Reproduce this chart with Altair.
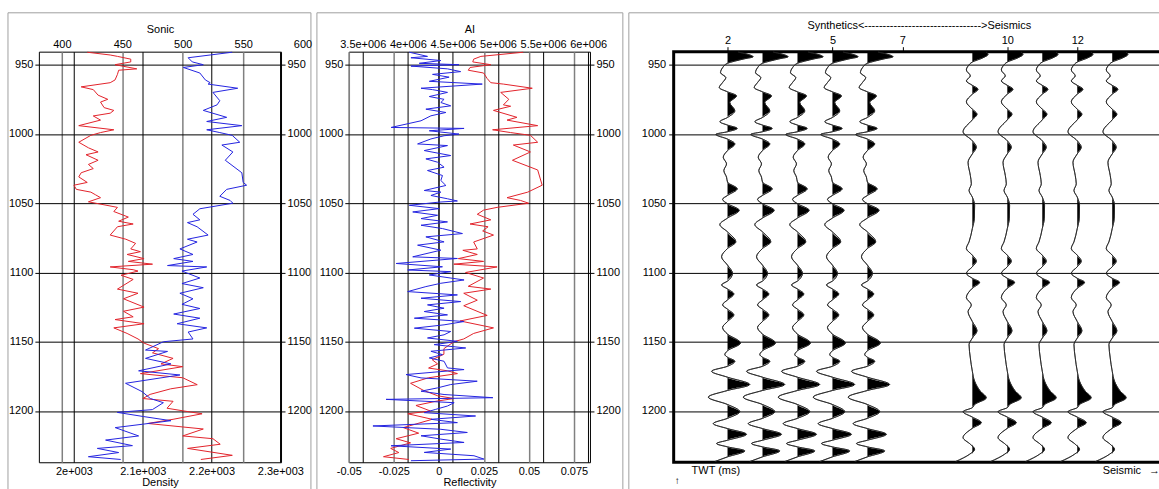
import altair as alt
import pandas as pd

FONT = "Liberation Sans"
RED = "#e2232b"
BLUE = "#2424e0"
GRAY = "#808080"

# ---------------- data ----------------
t_domain = [940.6, 1237.0]
t_ticks = [950, 1000, 1050, 1100, 1150, 1200]

sonic_ticks = [400, 450, 500, 550]
density_ticks = [2000, 2100, 2200, 2300]
ai_ticks = [3.5e6, 4.0e6, 4.5e6, 5.0e6, 5.5e6, 6.0e6]
refl_ticks = [-0.05, -0.025, 0, 0.025, 0.05, 0.075]
trace_ticks = [2, 5, 7, 10, 12]

sonic_t = [941, 943, 944, 946, 948, 950, 953, 954, 957, 961, 963, 966, 968, 972, 975, 977, 981, 983, 985, 987,
           990, 994, 997, 999, 1001, 1006, 1010, 1013, 1015, 1019, 1022, 1025, 1028, 1031, 1035, 1037, 1040, 1042,
           1044, 1046, 1049, 1053, 1056, 1060, 1063, 1065, 1067, 1073, 1076, 1079, 1083, 1085, 1087, 1090, 1092,
           1094, 1096, 1098, 1099, 1102, 1105, 1112, 1115, 1119, 1125, 1128, 1132, 1134, 1137, 1140, 1144, 1148,
           1151, 1155, 1158, 1162, 1166, 1168, 1173, 1176, 1181, 1184, 1188, 1191, 1193, 1198, 1200, 1202, 1206,
           1209, 1213, 1218, 1220, 1224, 1227, 1232, 1235]
sonic_v = [421, 440, 446, 457, 457, 444, 462, 447, 446, 444, 440, 416, 426, 430, 438, 432, 435, 443, 440, 426,
           432, 414, 443, 432, 424, 414, 422, 430, 420, 430, 422, 426, 416, 414, 421, 410, 412, 424,
           428, 432, 422, 446, 443, 455, 447, 459, 446, 440, 453, 461, 457, 465, 454, 468, 455,
           475, 440, 459, 463, 449, 459, 446, 463, 451, 468, 451, 459, 444, 468, 443, 454, 463,
           468, 480, 475, 492, 482, 500, 465, 500, 512, 490, 473, 467, 492, 487, 501, 516, 492,
           471, 517, 500, 525, 531, 504, 541, 515]

density_t = [941, 943, 945, 948, 950, 952, 956, 961, 963, 964, 967, 970, 976, 979, 983, 988, 991, 994, 997, 999,
             1001, 1006, 1008, 1013, 1019, 1028, 1035, 1037, 1040, 1045, 1048, 1050, 1054, 1058, 1062,
             1064, 1067, 1073, 1076, 1078, 1083, 1087, 1090, 1092, 1095, 1096, 1099, 1104, 1108, 1111,
             1115, 1119, 1123, 1126, 1130, 1133, 1137, 1140, 1143, 1148, 1150, 1156, 1157, 1162, 1166,
             1171, 1174, 1180, 1186, 1191, 1194, 1199, 1201, 1204, 1207, 1212, 1218, 1221, 1225, 1227,
             1230, 1233, 1235]
density_v = [2230, 2198, 2166, 2172, 2188, 2159, 2183, 2191, 2198, 2195, 2238, 2202, 2212, 2208, 2188,
             2222, 2193, 2244, 2193, 2212, 2230, 2241, 2215, 2231, 2220, 2244, 2246, 2251, 2222, 2212,
             2227, 2231, 2183, 2173, 2183, 2165, 2179, 2195, 2165, 2179, 2154, 2173, 2145, 2173, 2136,
             2193, 2157, 2183, 2157, 2188, 2154, 2173, 2157, 2183, 2145, 2183, 2150, 2193, 2166, 2173,
             2130, 2104, 2136, 2104, 2141, 2094, 2154, 2075, 2099, 2111, 2130, 2114, 2063, 2101, 2141,
             2060, 2094, 2046, 2085, 2034, 2065, 2021, 2068]

ai_t = [941, 944, 946, 948, 950, 952, 954, 956, 960, 963, 964, 967, 970, 975, 979, 980, 983, 988, 990, 994,
        997, 999, 1001, 1006, 1008, 1013, 1019, 1026, 1037, 1042, 1046, 1048, 1050, 1053, 1055,
        1058, 1062, 1065, 1067, 1070, 1073, 1078, 1083, 1084, 1087, 1090, 1092, 1094, 1096, 1100,
        1104, 1110, 1112, 1115, 1120, 1124, 1131, 1135, 1140, 1144, 1148, 1150, 1155, 1159, 1163,
        1166, 1169, 1171, 1173, 1176, 1180, 1185, 1189, 1191, 1193, 1196, 1200, 1202, 1206, 1212,
        1216, 1220, 1223, 1227, 1230, 1233, 1235]
ai_v = [5.28e6, 4.81e6, 4.73e6, 4.72e6, 4.92e6, 4.69e6, 4.67e6, 4.84e6, 4.88e6, 4.92e6,
        5.06e6, 5.38e6, 5.03e6, 5.12e6, 5.06e6, 5.14e6, 4.95e6, 5.21e6, 5.10e6, 5.44e6,
        4.94e6, 5.14e6, 5.36e6, 5.44e6, 5.17e6, 5.36e6, 5.16e6, 5.44e6, 5.49e6, 5.33e6,
        5.10e6, 5.25e6, 5.34e6, 4.99e6, 4.84e6, 4.77e6, 4.92e6, 4.69e6, 4.89e6, 4.83e6,
        4.95e6, 4.73e6, 4.77e6, 4.61e6, 4.77e6, 4.56e6, 4.84e6, 4.51e6, 4.99e6, 4.64e6,
        4.84e6, 4.67e6, 4.92e6, 4.62e6, 4.77e6, 4.62e6, 4.88e6, 4.58e6, 4.95e6, 4.73e6,
        4.62e6, 4.51e6, 4.40e6, 4.40e6, 4.27e6, 4.33e6, 4.23e6, 4.44e6, 4.55e6, 4.23e6,
        4.03e6, 4.17e6, 4.33e6, 4.51e6, 4.31e6, 4.09e6, 4.25e6, 4.00e6, 4.27e6, 3.95e6,
        4.12e6, 3.87e6, 4.03e6, 3.81e6, 3.90e6, 3.73e6, 4.01e6]

refl_t = [941, 944, 945, 947, 949, 950, 951, 953, 955, 957, 959, 962, 964, 967, 968, 970, 973, 975,
          977.3, 979.7, 982.1, 984.5, 986.9, 990.5, 995.3, 996.0, 997.7, 1000.1, 1001.3, 1003.6, 1007.2,
          1008.4, 1012.0, 1015.6, 1018.0, 1020.4, 1024.0, 1026.4, 1030.0, 1033.6, 1037.2, 1040.8, 1042.0,
          1044.4, 1046.8, 1048.4, 1049.2, 1051.5, 1053.9, 1056.3, 1058.7, 1061.1, 1063.5, 1065.9, 1068.3,
          1071.9, 1074.3, 1077.9, 1080.3, 1083.9, 1088.7, 1089.9, 1093.5, 1095.9, 1098.2, 1099.4, 1101.8,
          1105.4, 1107.8, 1110.2, 1113.8, 1116.2, 1118.6, 1121.0, 1123.4, 1125.8, 1128.2, 1130.6, 1133.0,
          1135.4, 1137.8, 1140.2, 1142.6, 1145.0, 1147.3, 1149.7, 1152.1, 1154.5, 1156.9, 1159.3, 1161.7,
          1164.1, 1168.9, 1170.1, 1173.7, 1176.1, 1178.5, 1180.9, 1183.3, 1185.7, 1188.1, 1190.4, 1191.6,
          1194.0, 1196.4, 1198.8, 1201.2, 1203.6, 1206.0, 1208.4, 1210.8, 1213.2, 1215.5, 1217.9, 1220.3,
          1222.7, 1225.1, 1227.5, 1229.9, 1232.3, 1234.7, 1235.9]
refl_v = [-0.0164, -0.0063, -0.0155, 0.0011, -0.0109, 0.0112, -0.0155, 0.0048, 0.0121, -0.0035, 0.0057,
          -0.0053, 0.0241, -0.0099, -0.0035, 0.0048, -0.0053, 0.0029,
          0.0011, 0.0066, -0.0072, 0.0039, -0.0044, -0.0099, -0.0265, 0.0140, -0.0053, 0.0112, 0.0029,
          -0.0044, -0.0118, 0.0048, -0.0081, 0.0066, -0.0072, -0.0007, 0.0029, -0.0063, 0.0020, 0.0011,
          0.0039, -0.0081, 0.0011, -0.0044, 0.0048, 0.0103, 0.0002, -0.0164, 0.0002, -0.0145, -0.0007,
          -0.0099, 0.0048, -0.0099, 0.0020, 0.0131, -0.0072, 0.0029, -0.0118, 0.0011, -0.0145, 0.0103,
          -0.0237, 0.0020, -0.0173, 0.0066, -0.0053, 0.0140, 0.0011, -0.0072, -0.0173, 0.0103, -0.0099,
          0.0121, -0.0063, 0.0029, -0.0081, 0.0048, -0.0136, 0.0140, 0.0029, -0.0136, 0.0066, 0.0029,
          -0.0063, 0.0103, -0.0026, 0.0149, -0.0044, 0.0020, -0.0053, 0.0029, 0.0048, 0.0140, -0.0182,
          -0.0099, 0.0213, 0.0066, -0.0007, -0.0099, 0.0029,
          0.0300, -0.0293, 0.0085, 0.0048, -0.0017, -0.0081, 0.0204, -0.0044, 0.0103, -0.0366, 0.0011,
          0.0158, -0.0099, 0.0011, 0.0140, -0.0265, 0.0066, -0.0081, 0.0195, 0.0250, -0.0155]

# wiggle traces (time in ms, amplitude)
syn_t = [940.9, 942.6, 944.3, 945.7, 947.4, 949.0, 952.2, 955.8, 959.3, 962.9, 966.5, 969.6, 972.5, 977.3,
         983.3, 988.1, 991.2, 993.6, 996.0, 998.4, 1000.3, 1003.7, 1007.2, 1012.0, 1016.8, 1021.6, 1026.4,
         1031.2, 1034.8, 1039.6, 1044.4, 1047.2, 1050.4, 1055.1, 1060.7, 1065.4, 1070.7, 1077.9, 1082.7,
         1088.7, 1094.7, 1100.6, 1106.2, 1109.0, 1111.9, 1115.5, 1119.8, 1123.4, 1126.5, 1130.6, 1135.4,
         1139.7, 1144.5, 1150.9, 1156.5, 1159.3, 1161.2, 1164.1, 1167.7, 1171.3, 1175.6, 1180.9, 1185.2,
         1190.0, 1195.3, 1200.5, 1205.3, 1209.1, 1212.7, 1216.8, 1221.1, 1223.5, 1225.9, 1228.8, 1233.1,
         1236.5]
syn_a = [10.7, 20.7, 25.7, 17.3, 7.3, 0, -5, -7, -1.7, -5, -8.3, 0, 9, 2.3, 7.3, 0, -7.7, 0, 9.7, 0,
         -11.7, 0, 7.3, 0, -4.3, -1, -3.7, -1, 0, 9.7, 0, -5, 0, 11.7, 0, -7.7, 0, 8.3, 0, -6,
         0, 5, 0, -6, 0, 6.3, 0, -5, 0, 6.3, 0, -5, 0, 13, 0, -2.7, 0, 7.3, 0, -16,
         0, 22.3, 0, -19.3, 0, 12.3, 0, -14.3, 0, 19, 0, -11, 0, 17.3, 0, -12.7]

sei_t = [940.9, 942.6, 945.0, 948.1, 951.0, 953.8, 958.1, 961.7, 964.9, 967.7, 971.3, 976.8, 982.1, 985.7,
         989.8, 998.4, 1004.9, 1009.6, 1014.4, 1020.4, 1030.0, 1036.0, 1040.8, 1045.6, 1051.6, 1061.1,
         1068.3, 1077.9, 1082.7, 1087.5, 1091.8, 1095.9, 1100.6, 1104.2, 1107.1, 1111.4, 1118.1, 1123.4,
         1128.2, 1135.4, 1142.1, 1147.4, 1152.1, 1161.7, 1171.3, 1178.5, 1185.7, 1190.5, 1195.3, 1197.6,
         1200.5, 1204.4, 1208.4, 1212.5, 1219.2, 1224.0, 1227.6, 1231.2, 1236.5]
sei_a = [14, 15.7, 10.7, 0, -4.3, -6, -2, -6, 0, 5.7, 0, -6, 0, 4.7, 0, -9.3, 0, 4, 0, -4.3,
         -2, -1, -3.3, 0, 2.3, 2, 0, -3.3, -6, 0, 4, 0, -6, 0, 7.3, 0, -6, -1, -4.3, 0,
         4.7, 0, -3.3, -2, 0, 2.3, 8, 14, 2.3, 0, -9.3, 0, 9, 0, -9.3, -2, 2.3, -2.7, -16.7]

synthetic_traces = [2, 3, 4, 5, 6]
seismic_traces = [9, 10, 11, 12, 13]
TRACE_GAIN = 1 / 35.1  # trace spacing per amplitude unit

title3 = "Synthetics<" + "-" * 32 + ">Seismics"

# ---------------- helpers ----------------
def series(t, v):
    assert len(t) == len(v), (len(t), len(v))
    return pd.DataFrame({"t": t, "v": v})


rows = []
for tr in synthetic_traces:
    rows += [{"trace": tr, "t": a, "amp": b} for a, b in zip(syn_t, syn_a)]
for tr in seismic_traces:
    rows += [{"trace": tr, "t": a, "amp": b} for a, b in zip(sei_t, sei_a)]
assert len(syn_t) == len(syn_a) and len(sei_t) == len(sei_a)
wig = pd.DataFrame(rows)

PANEL_H = 412
yscale = alt.Scale(domain=t_domain, reverse=True, nice=False, zero=False)


def yaxis(orient, grid, tick=4, pad=2):
    return alt.Axis(orient=orient, values=t_ticks, grid=grid, gridColor="#000", gridWidth=1,
                    ticks=True, tickSize=tick, tickColor="#000", tickWidth=1,
                    domain=False, labelPadding=pad, labelFontSize=11, labelColor="#000",
                    labelExpr="'' + datum.value")


def frame(x1, x2):
    return alt.Chart(alt.Data(values=[{"f": 1}])).mark_rect(
        fillOpacity=0, stroke="#a0a0a0", strokeWidth=1
    ).encode(x=alt.value(x1), x2=alt.value(x2), y=alt.value(-39), y2=alt.value(450))


def label(text, x, y, align="left", size=11):
    return alt.Chart(alt.Data(values=[{"txt": text}])).mark_text(
        font=FONT, fontSize=size, align=align, baseline="middle", color="#000"
    ).encode(x=alt.value(x), y=alt.value(y), text="txt:N")


def top_axis(title, values, grid_color, grid_width, expr="'' + datum.value"):
    return alt.Axis(orient="top", title=title, values=values, grid=True, gridColor=grid_color,
                    gridWidth=grid_width, ticks=False, domain=False, labelPadding=2, titlePadding=4,
                    labelOverlap=False, labelFlush=False, labelExpr=expr)


def bottom_axis(title, values, grid_color, grid_width, expr):
    return alt.Axis(orient="bottom", title=title, values=values, grid=True, gridColor=grid_color,
                    gridWidth=grid_width, ticks=False, domain=False, labelPadding=3, titlePadding=0,
                    labelOverlap=False, labelFlush=False, labelExpr=expr)


# ---------------- panel 1: Sonic / Density ----------------
sonic = alt.Chart(series(sonic_t, sonic_v)).mark_line(color=RED, strokeWidth=1).encode(
    x=alt.X("v:Q", scale=alt.Scale(domain=[381.0, 581.3], nice=False, zero=False),
            axis=top_axis("Sonic", sonic_ticks, GRAY, 1.5)),
    y=alt.Y("t:Q", scale=yscale, axis=yaxis("left", True), title=None),
    order=alt.Order("t:Q"),
)
density = alt.Chart(series(density_t, density_v)).mark_line(color=BLUE, strokeWidth=1).encode(
    x=alt.X("v:Q", scale=alt.Scale(domain=[1949, 2301], nice=False, zero=False),
            axis=bottom_axis("Density", density_ticks, "#000", 1, "(datum.value/1000) + 'e+003'")),
    y=alt.Y("t:Q", scale=yscale, axis=yaxis("right", False), title=None),
    order=alt.Order("t:Q"),
)
extra600 = alt.Chart(alt.Data(values=[{"txt": "600"}])).mark_text(
    font=FONT, fontSize=11, align="center", baseline="bottom", color="#000"
).encode(x=alt.value(265), y=alt.value(-2), text="txt:N")

p1 = alt.layer(frame(-31, 273), sonic, density, extra600).resolve_scale(
    x="independent").resolve_axis(x="independent", y="independent").properties(
    width=243, height=PANEL_H, view=alt.ViewBackground(stroke="#000", strokeWidth=1))

# ---------------- panel 2: AI / Reflectivity ----------------
ai = alt.Chart(series(ai_t, ai_v)).mark_line(color=RED, strokeWidth=1).encode(
    x=alt.X("v:Q", scale=alt.Scale(domain=[3.345e6, 6.02e6], nice=False, zero=False),
            axis=top_axis("AI", ai_ticks, "#000", 1, "(datum.value/1000000) + 'e+006'")),
    y=alt.Y("t:Q", scale=yscale, axis=yaxis("left", True), title=None),
    order=alt.Order("t:Q"),
)
refl = alt.Chart(series(refl_t, refl_v)).mark_line(color=BLUE, strokeWidth=1).encode(
    x=alt.X("v:Q", scale=alt.Scale(domain=[-0.05, 0.0839], nice=False, zero=False),
            axis=alt.Axis(orient="bottom", title="Reflectivity", values=refl_ticks, grid=True,
                          gridColor={"condition": {"test": "datum.value === 0", "value": "#000"},
                                     "value": GRAY},
                          gridWidth=1.5, ticks=False, domain=False, labelPadding=3, titlePadding=0,
                          labelOverlap=False, labelFlush=False, labelExpr="'' + datum.value")),
    y=alt.Y("t:Q", scale=yscale, axis=yaxis("right", False), title=None),
    order=alt.Order("t:Q"),
)
p2 = alt.layer(frame(-32, 275), ai, refl).resolve_scale(
    x="independent").resolve_axis(x="independent", y="independent").properties(
    width=242, height=PANEL_H, view=alt.ViewBackground(stroke="#000", strokeWidth=1))

# ---------------- panel 3: wiggle traces ----------------
xs3 = alt.Scale(domain=[0.46, 14.48], nice=False, zero=False)
xaxis3 = alt.Axis(orient="top", title=title3, values=trace_ticks, grid=False, ticks=True,
                  tickSize=5, tickColor="#000", domain=False, labelPadding=1, titlePadding=4,
                  labelOverlap=False, labelFlush=False)
yaxis3 = yaxis("left", True, tick=5, pad=3)
base3 = alt.Chart(wig).transform_calculate(
    xw=f"datum.trace + datum.amp * {TRACE_GAIN}",
    xf=f"datum.trace + max(datum.amp, 0) * {TRACE_GAIN}",
)
fill = base3.mark_area(orient="horizontal", interpolate="monotone", color="#000").encode(
    x=alt.X("xf:Q", scale=xs3, stack=False, axis=xaxis3, title=title3),
    x2=alt.X2("trace:Q"),
    y=alt.Y("t:Q", scale=yscale, axis=yaxis3, title=None),
    detail="trace:N",
)
wline = base3.mark_area(orient="horizontal", interpolate="monotone", fillOpacity=0,
                        stroke="#222", strokeWidth=0.8).encode(
    x=alt.X("xw:Q", scale=xs3, stack=False, axis=xaxis3, title=title3),
    x2=alt.X2("xw:Q"),
    y=alt.Y("t:Q", scale=yscale, axis=yaxis3, title=None),
    detail="trace:N",
)
p3 = alt.layer(
    frame(-45, 510), fill, wline,
    label("TWT (ms)", 18, 421),
    label("\u2191", 1, 431, size=10),
    label("Seismic", 469, 421, align="right"),
    label("\u2192", 477, 421),
).properties(width=492, height=PANEL_H, view=alt.ViewBackground(stroke="#000", strokeWidth=3))

chart = alt.hconcat(p1, p2, p3, spacing=3).properties(
    padding={"left": 7, "top": 10, "right": -25, "bottom": -12}, background="#ffffff"
).configure_axis(
    labelFont=FONT, titleFont=FONT, labelFontSize=11, titleFontSize=11,
    titleFontWeight="normal", labelColor="#000", titleColor="#000"
)

chart.save("out.html", embed_options={"renderer": "svg", "actions": False})
